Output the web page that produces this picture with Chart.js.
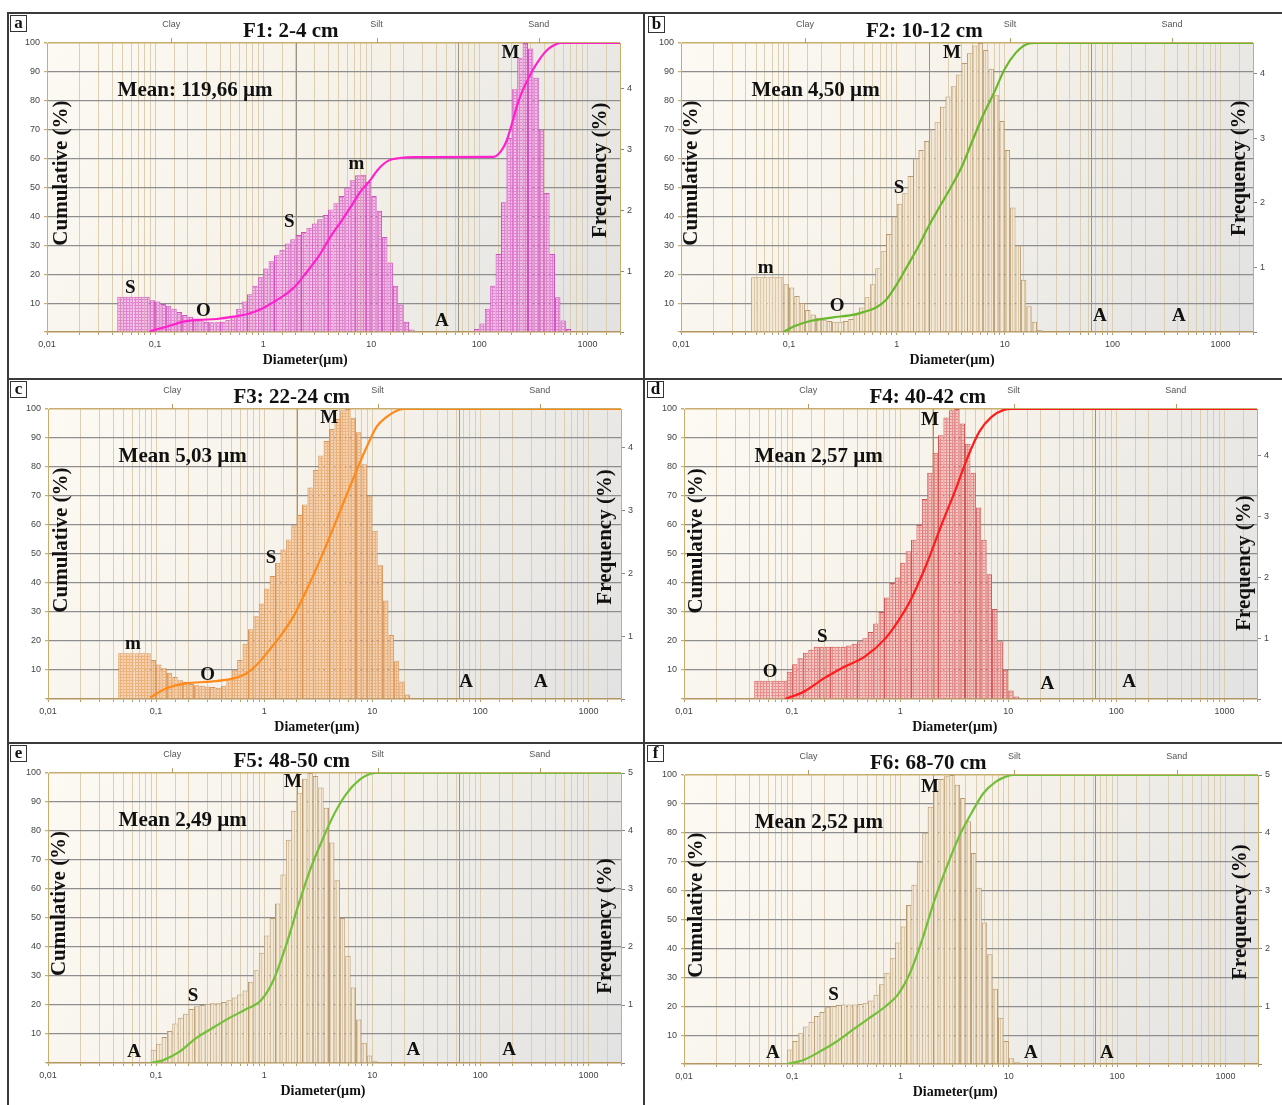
<!DOCTYPE html>
<html>
<head>
<meta charset="utf-8">
<script src="https://cdn.jsdelivr.net/npm/chart.js@4.4.1/dist/chart.umd.min.js"></script>
<style>
  html, body { margin:0; padding:0; background:#fff; width:1282px; height:1105px; overflow:hidden; }
  canvas { position:absolute; }
  .rule { position:absolute; background:#3a3a3a; z-index:2; }
  .tag { position:absolute; width:15px; height:15px; border:1px solid #333; background:#fff; z-index:3;
         font:bold 17px 'Liberation Serif', serif; line-height:14px; text-align:center; color:#111; }
</style>
</head>
<body>
<div class="rule" style="left:7px;top:12px;width:1275px;height:2px"></div>
<div class="rule" style="left:7px;top:12px;width:2px;height:1093px"></div>
<div class="rule" style="left:643px;top:12px;width:2px;height:1093px"></div>
<div class="rule" style="left:7px;top:378px;width:1275px;height:2px"></div>
<div class="rule" style="left:7px;top:742px;width:1275px;height:2px"></div>

<script>
// size classes of the analyser: 20 per decade, first regular class starts at 0.089 µm,
// the lowest class (0.045-0.089 µm) is reported as one wide box
const STEP = 0.05;
const FIRST_EDGE = -1.05;
const WIDE_EDGE = -1.35;
const X_MIN = 0.01, X_MAX = 2000;

// Clay / Silt / Sand limits and label spots (µm)
const BOUNDS = [2, 63];
const CLASSES = [['Clay', 0.141], ['Silt', 11.2], ['Sand', 355]];

// frequency (%) per size class, starting at 0.089 µm
const wideA = 0.58;
const freqA = [
  0.52,0.50,0.46,0.43,0.38,0.33,0.28,0.25,0.22,0.19,
  0.17,0.16,0.16,0.17,0.20,0.26,0.38,0.50,0.62,0.76,
  0.90,1.04,1.16,1.26,1.35,1.45,1.52,1.59,1.64,1.71,
  1.78,1.85,1.92,2.01,2.11,2.23,2.37,2.49,2.57,2.58,
  2.46,2.23,1.99,1.56,1.14,0.76,0.45,0.17,0.04,0,
  0,0,0,0,0,0,0,0,0,0,
  0.05,0.14,0.38,0.76,1.28,2.13,3.18,3.98,4.50,4.74,
  4.65,4.17,3.32,2.28,1.28,0.57,0.19,0.05
];
const wideB = 0.85;
const freqB = [
  0.74,0.69,0.56,0.45,0.34,0.27,0.22,0.19,0.17,0.16,
  0.16,0.17,0.20,0.27,0.38,0.54,0.74,0.99,1.25,1.52,
  1.79,1.99,2.15,2.42,2.69,2.82,2.96,3.14,3.25,3.49,
  3.65,3.81,3.99,4.17,4.32,4.44,4.48,4.37,4.08,3.67,
  3.27,2.82,1.93,1.34,0.81,0.40,0.16,0.03
];
const wideC = 0.73;
const freqC = [
  0.62,0.55,0.49,0.42,0.35,0.30,0.27,0.24,0.22,0.21,
  0.20,0.19,0.18,0.21,0.30,0.46,0.62,0.88,1.11,1.32,
  1.52,1.76,1.96,2.17,2.38,2.54,2.77,2.93,3.10,3.37,
  3.65,3.88,4.11,4.30,4.46,4.60,4.62,4.48,4.25,3.74,
  3.23,2.68,2.13,1.57,1.02,0.60,0.28,0.07
];
const wideD = 0.30;
const freqD = [
  0.45,0.57,0.67,0.76,0.81,0.86,0.86,0.86,0.86,0.86,
  0.86,0.88,0.91,0.95,1.00,1.10,1.24,1.43,1.67,1.91,
  2.00,2.24,2.43,2.62,2.86,3.29,3.72,4.05,4.34,4.63,
  4.75,4.77,4.53,4.20,3.72,3.15,2.62,2.05,1.48,0.95,
  0.48,0.14,0.04
];
const freqE = [
  0.23,0.33,0.45,0.55,0.68,0.78,0.85,0.93,0.98,1.00,
  1.02,1.03,1.03,1.05,1.08,1.13,1.18,1.25,1.40,1.60,
  1.90,2.20,2.50,2.75,3.25,3.85,4.35,4.65,4.90,5.00,
  4.95,4.75,4.40,3.80,3.15,2.50,1.85,1.30,0.75,0.35,
  0.13,0.03
];
const freqF = [
  0.25,0.40,0.53,0.65,0.73,0.83,0.90,0.98,1.00,1.02,
  1.03,1.03,1.03,1.04,1.06,1.10,1.20,1.38,1.58,1.83,
  2.10,2.38,2.75,3.10,3.50,4.00,4.45,4.75,4.93,4.98,
  5.00,4.83,4.60,4.20,3.65,3.05,2.45,1.90,1.30,0.80,
  0.40,0.10,0.03
];

// cumulative (%): diameter (µm) / value
const cumDA = [0.089,0.1,0.128,0.183,0.26,0.37,0.53,0.76,1.0,1.3,1.66,2.0,2.5,3.3,4.2,5.2,6.5,8.1,10,11.4,14.4,18.3,25,135,158,178,200,224,251,282,316,355,398,447,501,562,2000];
const cumVA = [0.1,0.8,1.8,3.6,4.2,4.5,5.3,6.5,8.3,10.8,13.4,16,20.5,26.5,33,38,43.5,49,53,56,59.3,60.2,60.5,60.6,62.5,66,72,78.5,83.5,87.5,91,94,96.5,98.3,99.4,100,100];
const cumDB = [0.089,0.112,0.158,0.25,0.4,0.5,0.63,0.79,1.0,1.26,1.58,2.0,2.51,3.16,3.98,5.0,6.3,7.9,10,12.6,15.8,20,2000];
const cumVB = [0,2.0,3.8,5.0,6.0,7.0,8.3,11,16.5,23,29.5,37,43.5,50,57,66,75,82.5,91,96.5,99.5,100,100];
const cumDC = [0.088,0.125,0.19,0.32,0.52,0.69,0.85,1.05,1.4,1.86,2.47,3.28,4.36,5.8,7.2,8.9,11,13.6,16.8,19.5,2000];
const cumVC = [0.5,3.7,5.4,6.0,7.1,8.9,11.7,15.7,21.5,28.4,37.6,47.9,59,70.5,79,87,93.9,97.3,99.4,100,100];
const cumDD = [0.086,0.128,0.197,0.305,0.47,0.73,0.95,1.23,1.74,2.47,3.2,4.17,5.4,7.0,9.1,10.8,2000];
const cumVD = [0,2.5,7.1,11.1,14.6,20.9,26.7,33.6,46.2,61.1,71.5,83,92.2,97.3,99.7,100,100];
const cumDE = [0.089,0.117,0.165,0.233,0.33,0.47,0.66,0.94,1.22,1.58,2.05,2.66,3.45,4.48,5.8,7.6,9.0,10.7,2000];
const cumVE = [0,1,3.9,8.5,12,15.4,18.3,21.7,28.6,40.1,53.9,66.6,76.9,86.1,93,97.6,99.3,100,100];
const cumDF = [0.089,0.127,0.18,0.255,0.36,0.51,0.72,0.94,1.22,1.58,2.06,2.67,3.46,4.5,5.8,7.6,9.8,11,2000];
const cumVF = [0,1.4,4.3,7.7,11.8,15.8,19.8,23.9,31.4,42.9,56.7,68.2,78.6,86.7,93.6,97.7,99.7,100,100];

// mode labels: text, diameter (µm), cumulative (%)
const labelsA = [['S',0.059,15.2],['O',0.28,7.3],['S',1.74,38],['m',7.3,58],['A',45,3.8],['M',194,96.5]];
const labelsB = [['m',0.061,22],['O',0.28,9],['S',1.05,49.8],['M',3.25,96.5],['A',76,5.5],['A',412,5.5]];
const labelsC = [['m',0.061,19],['O',0.30,8.3],['S',1.16,48.6],['M',4.0,96.9],['A',74,5.9],['A',363,5.9]];
const labelsD = [['O',0.0625,9.3],['S',0.19,21.4],['M',1.89,96.2],['A',23,5.2],['A',131,5.9]];
const labelsE = [['A',0.0625,3.8],['S',0.22,23.1],['M',1.85,96.9],['A',24,4.5],['A',184,4.5]];
const labelsF = [['A',0.066,3.8],['S',0.24,23.9],['M',1.87,95.8],['A',16,3.8],['A',80.5,3.8]];

const SERIF = "'Liberation Serif', 'DejaVu Serif', serif";
const SANS = "'Liberation Sans', 'DejaVu Sans', sans-serif";

const panels = [
  { tag:'a', title:'F1: 2-4 cm', mean:'Mean: 119,66 µm', wide:wideA, freq:freqA, cumD:cumDA, cumV:cumVA, labels:labelsA, fMax:4.74,
    line:'#ff22cc', fill:['#f5bce8','#df84cf',true], edge:'#d050bb',
    box:{left:9, top:14, w:633, h:363, yW:38, y2W:22, pad:29, xH:45}, cumT:[15,55], freqT:[19,56], diamAt:2.45, tagPos:[10,15] },
  { tag:'b', title:'F2: 10-12 cm', mean:'Mean 4,50 µm', wide:wideB, freq:freqB, cumD:cumDB, cumV:cumVB, labels:labelsB, fMax:4.48,
    line:'#69b82b', fill:['#f3e8d6','#dcc9a8',false], edge:'#b99a70',
    box:{left:646, top:14, w:636, h:363, yW:35, y2W:29, pad:29, xH:45}, cumT:[11,55], freqT:[13,56.7], diamAt:3.25, tagPos:[648,16] },
  { tag:'c', title:'F3: 22-24 cm', mean:'Mean 5,03 µm', wide:wideC, freq:freqC, cumD:cumDC, cumV:cumVC, labels:labelsC, fMax:4.62,
    line:'#ff8a1a', fill:['#f8d2ae','#ebb27c',true], edge:'#d69257',
    box:{left:9, top:380, w:633, h:361, yW:39, y2W:21, pad:29, xH:42}, cumT:[14,54.8], freqT:[15,55.9], diamAt:3.07, tagPos:[10,381] },
  { tag:'d', title:'F4: 40-42 cm', mean:'Mean 2,57 µm', wide:wideD, freq:freqD, cumD:cumDD, cumV:cumVD, labels:labelsD, fMax:4.77,
    line:'#ff1c1c', fill:['#f5c6c0','#e68e8e',true], edge:'#d05252',
    box:{left:646, top:380, w:636, h:361, yW:38, y2W:25, pad:29, xH:42}, cumT:[13,54.5], freqT:[12,46.9], diamAt:3.2, tagPos:[647,381] },
  { tag:'e', title:'F5: 48-50 cm', mean:'Mean 2,49 µm', wide:null, freq:freqE, cumD:cumDE, cumV:cumVE, labels:labelsE, fMax:5,
    line:'#72c03a', fill:['#f3e8d6','#dcc9a8',false], edge:'#b99a70',
    box:{left:9, top:744, w:633, h:361, yW:39, y2W:21, pad:29, xH:42}, cumT:[12,55], freqT:[15,47.2], diamAt:3.5, tagPos:[10,745] },
  { tag:'f', title:'F6: 68-70 cm', mean:'Mean 2,52 µm', wide:null, freq:freqF, cumD:cumDF, cumV:cumVF, labels:labelsF, fMax:5,
    line:'#72c03a', fill:['#f3e8d6','#dcc9a8',false], edge:'#b99a70',
    box:{left:646, top:744, w:636, h:361, yW:38, y2W:24, pad:31, xH:41}, cumT:[13,55], freqT:[17,52.6], diamAt:3.2, tagPos:[647,745] }
];

function hatch(base, line, cross) {
  const c = document.createElement('canvas');
  c.width = 3; c.height = 3;
  const g = c.getContext('2d');
  g.fillStyle = base; g.fillRect(0, 0, 3, 3);
  g.fillStyle = line; g.fillRect(0, 0, 1, 3);
  if (cross) g.fillRect(0, 0, 3, 1);
  return g.createPattern(c, 'repeat');
}

function barPoints(p) {
  const pts = [];
  if (p.wide != null) {
    for (let k = 0; k < 6; k++) {
      pts.push({ x: 10 ** (WIDE_EDGE + (k + 0.5) * STEP), y: p.wide, w: k === 0 ? 'L' : (k === 5 ? 'R' : 'M') });
    }
  }
  p.freq.forEach((v, i) => {
    if (v > 0) pts.push({ x: 10 ** (FIRST_EDGE + (i + 0.5) * STEP), y: v, i: i });
  });
  return pts;
}

function decadeLabel(v) {
  const l = Math.log10(v);
  if (Math.abs(l - Math.round(l)) > 1e-6) return '';
  return String(+v.toFixed(2)).replace('.', ',');
}

function decor(p) {
  return {
    id: 'decor',
    beforeDraw(chart) {
      const { ctx, chartArea: a } = chart;
      const g = ctx.createLinearGradient(a.left, a.top, a.right, a.bottom);
      g.addColorStop(0, '#fdfaf3');
      g.addColorStop(0.45, '#f6f2ea');
      g.addColorStop(1, '#e2e2e2');
      ctx.save();
      ctx.fillStyle = g;
      ctx.fillRect(a.left, a.top, a.width, a.height);
      ctx.restore();
    },
    beforeDatasetsDraw(chart) {
      const { ctx, chartArea: a } = chart;
      const x = chart.scales.x;
      ctx.save();
      ctx.strokeStyle = '#9c9482';
      ctx.lineWidth = 1;
      BOUNDS.forEach(d => {
        const px = Math.round(x.getPixelForValue(d)) + 0.5;
        ctx.beginPath(); ctx.moveTo(px, a.top); ctx.lineTo(px, a.bottom); ctx.stroke();
      });
      ctx.restore();
    },
    afterDraw(chart) {
      const { ctx, chartArea: a } = chart;
      const x = chart.scales.x, y = chart.scales.y;
      ctx.save();
      ctx.fillStyle = '#555';
      ctx.strokeStyle = '#b89c62';
      ctx.font = '9px ' + SANS;
      ctx.textAlign = 'center';
      ctx.textBaseline = 'middle';
      CLASSES.forEach(([t, d]) => {
        const px = x.getPixelForValue(d);
        ctx.fillText(t, px, a.top - 18);
        ctx.beginPath(); ctx.moveTo(Math.round(px) + 0.5, a.top - 5); ctx.lineTo(Math.round(px) + 0.5, a.top); ctx.stroke();
      });

      ctx.fillStyle = '#111';
      ctx.font = 'bold 21px ' + SERIF;
      ctx.fillText(p.title, x.getPixelForValue(1.8), a.top - 11);

      ctx.textAlign = 'left';
      ctx.fillText(p.mean, x.getPixelForValue(0.045), y.getPixelForValue(83.6));

      ctx.textAlign = 'center';
      ctx.font = 'bold 19px ' + SERIF;
      p.labels.forEach(([t, d, v]) => ctx.fillText(t, x.getPixelForValue(d), y.getPixelForValue(v)));

      ctx.font = 'bold 14px ' + SERIF;
      ctx.fillText('Diameter(µm)', x.getPixelForValue(p.diamAt), a.bottom + 28);

      ctx.font = 'bold 21px ' + SERIF;
      ctx.save();
      ctx.translate(a.left + p.cumT[0], y.getPixelForValue(p.cumT[1]));
      ctx.rotate(-Math.PI / 2);
      ctx.fillText('Cumulative (%)', 0, 0);
      ctx.restore();
      ctx.save();
      ctx.translate(a.right - p.freqT[0], y.getPixelForValue(p.freqT[1]));
      ctx.rotate(-Math.PI / 2);
      ctx.fillText('Frequency (%)', 0, 0);
      ctx.restore();
      ctx.restore();
    }
  };
}

const tickFont = { size: 9, family: SANS };

panels.forEach(p => {
  const b = p.box;
  const cv = document.createElement('canvas');
  cv.width = b.w; cv.height = b.h;
  cv.style.left = b.left + 'px'; cv.style.top = b.top + 'px';
  document.body.appendChild(cv);

  const tag = document.createElement('div');
  tag.className = 'tag';
  tag.textContent = p.tag;
  tag.style.left = p.tagPos[0] + 'px'; tag.style.top = p.tagPos[1] + 'px';
  document.body.appendChild(tag);

  const plotW = b.w - b.yW - b.y2W;
  const binPx = plotW * STEP / Math.log10(X_MAX / X_MIN);

  new Chart(cv, {
    type: 'bar',
    data: {
      datasets: [
        {
          type: 'line',
          label: 'Cumulative',
          data: p.cumD.map((d, k) => ({ x: d, y: p.cumV[k] })),
          yAxisID: 'y',
          borderColor: p.line,
          borderWidth: 2.2,
          pointRadius: 0,
          cubicInterpolationMode: 'monotone',
          order: 0
        },
        {
          type: 'bar',
          label: 'Frequency',
          data: barPoints(p),
          yAxisID: 'y2',
          backgroundColor: hatch(p.fill[0], p.fill[1], p.fill[2]),
          borderColor: p.edge,
          borderWidth: ctx => {
            const r = ctx.raw;
            if (!r) return 0;
            if (r.w) return { top: 1, left: r.w === 'L' ? 1 : 0, right: r.w === 'R' ? 1 : 0, bottom: 0 };
            const next = p.freq[r.i + 1] || 0;
            return { top: 1, left: 1, right: next < r.y ? 1 : 0, bottom: 0 };
          },
          borderSkipped: 'start',
          barThickness: binPx,
          inflateAmount: 0,
          order: 1
        }
      ]
    },
    options: {
      responsive: false,
      animation: false,
      devicePixelRatio: 1,
      layout: { padding: { top: b.pad, left: 0, right: 0, bottom: 0 } },
      plugins: { legend: { display: false }, tooltip: { enabled: false } },
      scales: {
        x: {
          type: 'logarithmic', min: X_MIN, max: X_MAX, offset: false,
          grid: { offset: false, color: '#dccfb1', lineWidth: 1, tickLength: 3, tickColor: '#b99d64' },
          border: { color: '#b39660', width: 1.5 },
          ticks: { autoSkip: false, maxRotation: 0, padding: 4, font: tickFont, color: '#444', callback: decadeLabel },
          afterFit: s => { s.height = b.xH; }
        },
        y: {
          position: 'left', min: 0, max: 100,
          grid: {
            color: c => c.tick.value === 100 ? '#c9ad6c' : (c.tick.value === 0 ? 'rgba(0,0,0,0)' : '#8e8e8e'),
            lineWidth: c => c.tick.value === 100 ? 1.5 : 1.2,
            tickLength: 3, tickColor: '#c9ad6c'
          },
          border: { color: '#c9ad6c' },
          ticks: { stepSize: 10, padding: 4, font: tickFont, color: '#444', callback: v => v === 0 ? '' : v },
          afterFit: s => { s.width = b.yW; }
        },
        y2: {
          position: 'right', min: 0, max: p.fMax,
          grid: { drawOnChartArea: false, tickLength: 4, tickColor: '#888' },
          border: { color: '#c9ad6c' },
          ticks: { stepSize: 1, includeBounds: false, padding: 3, font: tickFont, color: '#444', callback: v => v === 0 ? '' : v },
          afterFit: s => { s.width = b.y2W; }
        }
      }
    },
    plugins: [decor(p)]
  });
});
</script>
</body>
</html>
